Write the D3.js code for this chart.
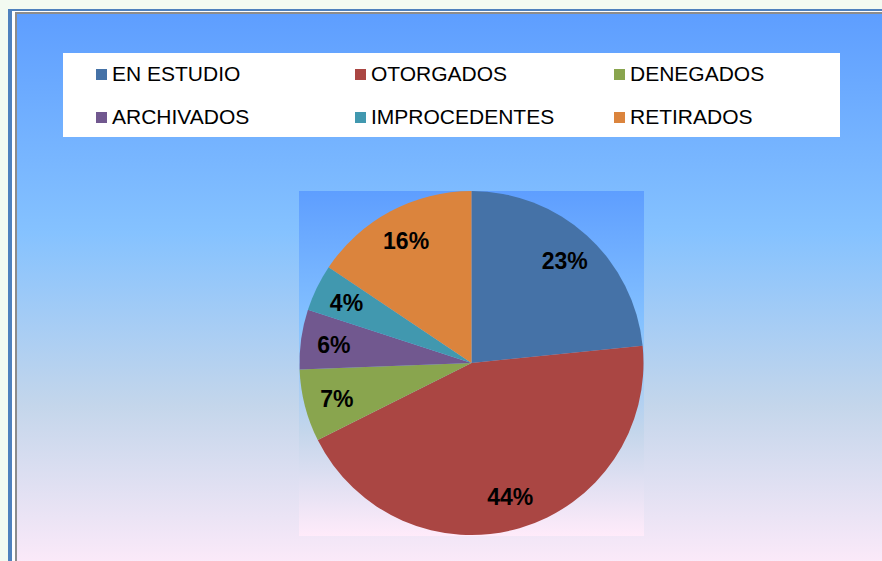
<!DOCTYPE html>
<html>
<head>
<meta charset="utf-8">
<script src="https://cdn.jsdelivr.net/npm/d3@7"></script>
<style>
  body { margin: 0; background: #f3faf1; }
  svg { display: block; }
</style>
</head>
<body>
<svg id="chart"></svg>
<script>
// --- Dados ---
const categorias = ["EN ESTUDIO", "OTORGADOS", "DENEGADOS", "ARCHIVADOS", "IMPROCEDENTES", "RETIRADOS"];
const porcentajes = [23.4, 44.2, 6.8, 5.6, 4.4, 15.6];
const colores = ["#4572a7", "#aa4643", "#89a54e", "#71588f", "#4198af", "#db843d"];

const W = 882, H = 561;
const svg = d3.select("#chart").attr("width", W).attr("height", H);

// gradiente "daybreak" (fondo y area de trazado)
const defs = svg.append("defs");
function gradiente(id) {
  const gr = defs.append("linearGradient").attr("id", id)
    .attr("x1", 0).attr("y1", 0).attr("x2", 0).attr("y2", 1);
  [[0, "#5e9eff"], [0.39, "#85c2ff"], [0.7, "#c4d6eb"], [1, "#ffebfa"]]
    .forEach(s => gr.append("stop").attr("offset", s[0]).attr("stop-color", s[1]));
}
gradiente("fondo");
gradiente("area");

// bordes del marco
svg.append("rect").attr("x", 8).attr("y", 9).attr("width", W - 8).attr("height", H)
  .attr("fill", "#4f81bd");
svg.append("rect").attr("x", 12).attr("y", 11).attr("width", W).attr("height", H)
  .attr("fill", "#ffffff");
svg.append("rect").attr("x", 15).attr("y", 12).attr("width", W).attr("height", H)
  .attr("fill", "#8c8c8c");
svg.append("rect").attr("x", 17).attr("y", 14).attr("width", W).attr("height", 560)
  .attr("fill", "url(#fondo)");

// --- Leyenda ---
svg.append("rect").attr("x", 63).attr("y", 53).attr("width", 777).attr("height", 84)
  .attr("fill", "#ffffff");

const legend = svg.selectAll(".legend-item")
  .data(categorias)
  .enter()
  .append("g")
  .attr("class", "legend-item")
  .attr("transform", (d, i) => `translate(${96 + (i % 3) * 259}, ${69 + Math.floor(i / 3) * 43})`);

legend.append("rect")
  .attr("width", 11).attr("height", 11)
  .attr("fill", (d, i) => colores[i]);

legend.append("text")
  .attr("x", 16).attr("y", 12)
  .attr("font-family", "'Liberation Sans', Arial, sans-serif")
  .attr("font-size", 21)
  .attr("fill", "#000")
  .text(d => d);

// --- Area de trazado y pastel ---
const cx = 471.5, cy = 363, R = 172;
svg.append("rect").attr("x", 299).attr("y", 191).attr("width", 345).attr("height", 345)
  .attr("fill", "url(#area)");

const pie = d3.pie().sort(null).value(d => d)(porcentajes);
const arc = d3.arc().innerRadius(0).outerRadius(R);
const arcLabel = d3.arc().innerRadius(139).outerRadius(139);

const g = svg.append("g").attr("transform", `translate(${cx},${cy})`);

g.selectAll(".slice")
  .data(pie)
  .enter()
  .append("path")
  .attr("class", "slice")
  .attr("d", arc)
  .attr("fill", (d, i) => colores[i]);

g.selectAll(".etiqueta")
  .data(pie)
  .enter()
  .append("text")
  .attr("class", "etiqueta")
  .attr("transform", d => `translate(${arcLabel.centroid(d)})`)
  .attr("text-anchor", "middle")
  .attr("dy", 9)
  .attr("font-family", "'Liberation Sans', Arial, sans-serif")
  .attr("font-weight", "bold")
  .attr("font-size", 23)
  .attr("fill", "#000")
  .text(d => Math.round(d.data) + "%");
</script>
</body>
</html>
